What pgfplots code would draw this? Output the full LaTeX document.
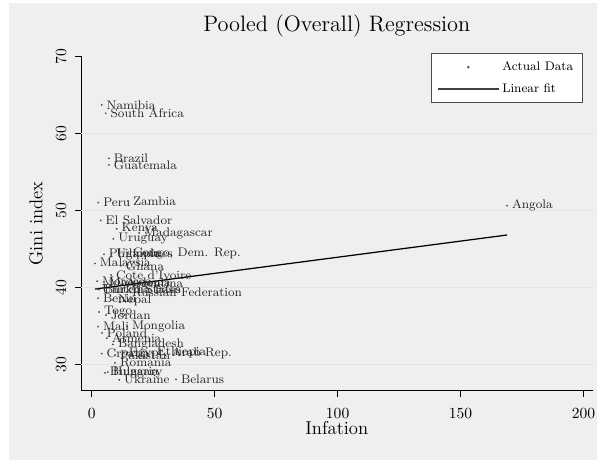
\documentclass[border=0pt]{standalone}
\usepackage{pgfplots}
\pgfplotsset{compat=1.18}
\definecolor{bg}{RGB}{239,239,239}
\definecolor{gridc}{RGB}{228,228,228}
\begin{document}
\begin{tikzpicture}
\path[use as bounding box, fill=white] (-52.2pt,-45.3pt) rectangle (332.6pt,251.9pt);
\fill[bg] (-46.4pt,-44.7pt) rectangle (332.6pt,249.9pt);
\begin{axis}[
  width=329.8pt, height=215.6pt, scale only axis,
  xmin=-4.35, xmax=203.7, ymin=26.57, ymax=70,
  axis x line*=bottom, axis y line*=left,
  axis line style={black, line width=0.6pt, -},
  tick align=outside, major tick length=4pt,
  tick style={black, line width=0.6pt},
  xtick={0,50,100,150,200}, ytick={30,40,50,60,70},
  tick label style={font=\normalsize},
  yticklabel style={rotate=90, anchor=south},
  yticklabel shift=2pt, xticklabel shift=4pt,
  extra y ticks={30,40,50,60}, extra y tick labels={},
  extra y tick style={grid=major, major tick length=0pt},
  grid style={gridc, line width=0.6pt},
  title={Pooled (Overall) Regression},
  title style={at={(axis description cs:0.5,1.0937)}, anchor=center, yshift=-6.4pt, font=\Large},
  xlabel={Infation},
  xlabel style={at={(axis description cs:0.5,-0.1122)}, anchor=center, font=\large},
  ylabel={Gini index},
  ylabel style={at={(axis description cs:-0.0879,0.5)}, anchor=center, font=\large},
  legend style={at={(0.981,1.009)}, anchor=north east, draw=black!70, fill=white,
    line width=0.6pt, font=\footnotesize, cells={anchor=west}, row sep=3pt,
    inner xsep=4pt, inner ysep=3pt},
  clip=false,
]
\addplot[only marks, mark=*, mark size=0.35pt, black!70,
  nodes near coords, point meta=explicit symbolic,
  every node near coord/.append style={anchor=west, font=\footnotesize, text=black!85, inner sep=0pt, xshift=3pt},
  legend image code/.code={\fill[black!70] (19.5pt,0pt) circle (0.4pt);}]
coordinates {
(4.1,63.7) [Namibia]
(5.7,62.6) [South Africa]
(7.0,56.75) [Brazil]
(7.0,55.9) [Guatemala]
(2.7,51.0) [Peru]
(14.8,51.2) [Zambia]
(3.7,48.7) [El Salvador]
(10.2,47.6) [Kenya]
(19.3,47.05) [Madagascar]
(8.8,46.3) [Uruguay]
(5.0,44.3) [Philippines]
(8.0,44.3) [Uganda]
(14.8,44.45) [{Congo, Dem. Rep.}]
(1.3,43.1) [Malaysia]
(11.9,42.8) [Ghana]
(7.9,41.6) [Cote d'Ivoire]
(2.2,40.8) [Morocco]
(5.0,40.7) [Macedonia]
(12.0,40.4) [Argentina]
(2.2,39.8) [United States]
(3.0,39.7) [Burkina Faso]
(14.4,39.4) [Russian Federation]
(2.6,38.6) [Benin]
(8.7,38.35) [Nepal]
(3.0,36.8) [Togo]
(5.8,36.4) [Jordan]
(2.6,34.9) [Mali]
(14.4,34.9) [Mongolia]
(4.2,34.1) [Poland]
(6.2,33.4) [Armenia]
(8.7,32.6) [Bangladesh]
(13.1,31.5) [{Egypt, Arab Rep.}]
(24.5,31.6) [Ethiopia]
(4.1,31.4) [Croatia]
(9.5,31.2) [Pakistan]
(9.5,30.2) [Romania]
(5.4,28.9) [Bulgaria]
(6.6,29.0) [Hungary]
(11.2,28.0) [Ukraine]
(34.3,28.05) [Belarus]
(168.9,50.6) [Angola]
};
\addlegendentry{Actual Data}
\addplot[black, line width=0.8pt,
  legend image code/.code={\draw[black!75, line width=0.8pt] (0pt,0pt) -- (39pt,0pt);}]
coordinates {(1.3,39.78) (168.9,46.8)};
\addlegendentry{Linear fit}
\end{axis}
\end{tikzpicture}
\end{document}
